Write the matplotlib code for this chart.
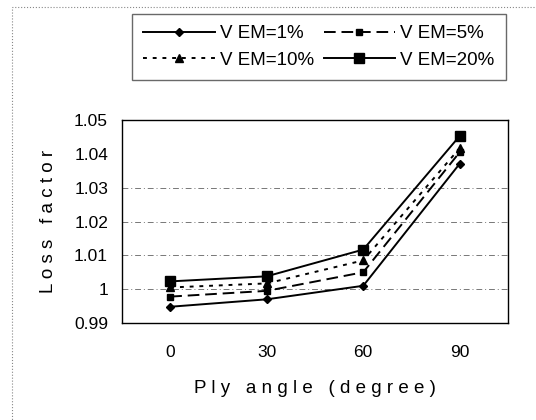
import matplotlib
matplotlib.use("Agg")
import matplotlib.pyplot as plt
from matplotlib.patches import Rectangle

angles = ["0", "30", "60", "90"]
vem_1 = [0.9948, 0.9970, 1.0010, 1.0371]
vem_5 = [0.9978, 0.9995, 1.0050, 1.0405]
vem_10 = [1.0005, 1.0017, 1.0085, 1.0417]
vem_20 = [1.0023, 1.0038, 1.0117, 1.0453]
labels = ["V EM=1%", "V EM=5%", "V EM=10%", "V EM=20%"]
y_ticks = [0.99, 1.0, 1.01, 1.02, 1.03, 1.04, 1.05]
y_tick_labels = ["0.99", "1", "1.01", "1.02", "1.03", "1.04", "1.05"]
grid_levels = [1.0, 1.01, 1.02, 1.03]

plt.rcParams['font.family'] = ['Liberation Sans', 'DejaVu Sans']

fig = plt.figure(figsize=(5.36, 4.2), dpi=100)
ax = fig.add_axes([122 / 536, 1 - 323 / 420, (508 - 122) / 536, (323 - 120) / 420])

x = range(len(angles))
l1, = ax.plot(x, vem_1, color="black", lw=1.4, ls="-", marker="D", ms=4.5, label=labels[0])
l2, = ax.plot(x, vem_5, color="black", lw=1.4, ls=(0, (6, 3)), marker="s", ms=5, label=labels[1])
l3, = ax.plot(x, vem_10, color="black", lw=1.4, ls=(0, (2, 3)), marker="^", ms=5.5, label=labels[2])
l4, = ax.plot(x, vem_20, color="black", lw=1.4, ls="-", marker="s", ms=7, label=labels[3])

for g in grid_levels:
    ax.axhline(g, color="#777777", lw=0.7, ls=(0, (6, 3, 1, 3)), zorder=0)

ax.set_xlim(-0.5, len(angles) - 0.5)
ax.set_ylim(0.99, 1.05)
ax.set_xticks(list(x))
ax.set_xticklabels(angles)
ax.set_yticks(y_ticks)
ax.set_yticklabels(y_tick_labels)
ax.tick_params(length=0, labelsize=12.5, pad=10)
ax.tick_params(axis="x", pad=16)
for s in ax.spines.values():
    s.set_linewidth(1.0)

ax.set_xlabel("P l y   a n g l e   ( d e g r e e )", fontsize=13.5, labelpad=14)
ax.set_ylabel("L o s s   f a c t o r", fontsize=13.5, labelpad=12)

# two rows: 1%, 5% on top, 10%, 20% below (matplotlib fills by column)
fig.legend([l1, l3, l2, l4], [labels[0], labels[2], labels[1], labels[3]],
           loc="upper left", bbox_to_anchor=(132 / 536, 1 - 14 / 420), ncol=2,
           fontsize=13.5, handlelength=3.8, columnspacing=0.5, handletextpad=0.3,
           frameon=True, fancybox=False, edgecolor="#444444", borderpad=0.6,
           labelspacing=0.5, borderaxespad=0)

fig.patches.append(Rectangle((12 / 536, -0.05), 1.1, 1 - 7 / 420 + 0.05,
                             transform=fig.transFigure, fill=False,
                             edgecolor="#888888", lw=0.8, ls=":"))

fig.savefig("out.png", dpi=100)
